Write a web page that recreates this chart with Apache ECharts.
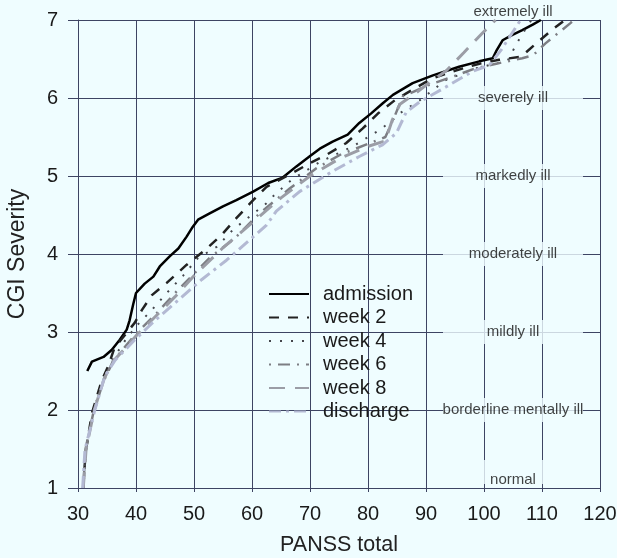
<!DOCTYPE html>
<html>
<head>
<meta charset="utf-8">
<script src="https://cdn.jsdelivr.net/npm/echarts@6/dist/echarts.min.js"></script>
<style>
  html, body { margin: 0; padding: 0; background: #effdff; }
  #main { width: 617px; height: 558px; }
</style>
</head>
<body>
<div id="main"></div>
<script>
// values: [PANSS total, CGI severity]
var seriesNames = ['admission', 'week 2', 'week 4', 'week 6', 'week 8', 'discharge'];

var admission = [[31.6,2.50],[32.4,2.62],[34.4,2.68],[35.8,2.77],[37.2,2.90],[38.4,3.03],[38.9,3.15],[39.5,3.35],[40.0,3.50],[41.5,3.62],[43.0,3.71],[44.1,3.84],[45.8,3.97],[47.3,4.07],[48.7,4.22],[49.8,4.35],[50.7,4.44],[52.7,4.52],[55.0,4.61],[57.3,4.69],[60.2,4.80],[62.8,4.91],[65.3,4.98],[67.6,5.12],[69.9,5.25],[71.7,5.35],[73.9,5.44],[76.5,5.53],[78.5,5.68],[80.5,5.80],[82.5,5.93],[84.3,6.04],[87.7,6.19],[91.2,6.29],[95.7,6.40],[99.2,6.47],[101.5,6.51],[102.1,6.60],[103.2,6.74],[104.9,6.81],[106.6,6.87],[108.4,6.94],[109.8,7.0]];

var week2 = [[30.9,1.0],[31.3,1.45],[32.4,1.96],[34.1,2.38],[35.2,2.56],[36.3,2.80],[38.5,3.00],[39.8,3.12],[41.0,3.28],[42.7,3.47],[45.3,3.63],[48.7,3.86],[51.9,4.05],[54.7,4.24],[57.3,4.46],[60.2,4.69],[62.5,4.86],[66.0,5.00],[69.9,5.16],[72.8,5.27],[76.2,5.42],[79.1,5.61],[81.7,5.80],[84.6,5.97],[86.6,6.06],[91.0,6.25],[95.0,6.35],[99.2,6.44],[102.6,6.49],[106.4,6.53],[109.0,6.70],[112.0,6.89],[114.0,7.0]];

var week4 = [[30.9,1.0],[31.4,1.5],[32.5,1.95],[34.2,2.35],[36.0,2.65],[38.2,2.90],[40.1,3.08],[42.7,3.28],[45.3,3.50],[48.1,3.72],[50.7,3.95],[53.9,4.09],[56.7,4.31],[59.6,4.48],[62.5,4.65],[63.9,4.76],[66.8,4.95],[71.7,5.18],[77.4,5.38],[82.0,5.59],[84.3,5.72],[85.4,5.80],[88.9,5.97],[93.4,6.23],[98.6,6.38],[102.0,6.44],[104.1,6.48],[105.8,6.72],[107.8,6.96],[108.2,7.0]];

var week6 = [[30.9,1.0],[31.3,1.5],[32.6,1.95],[34.3,2.35],[36.0,2.62],[38.0,2.80],[40.0,2.98],[43.3,3.22],[47.0,3.52],[52.7,3.95],[57.0,4.20],[61.3,4.52],[66.5,4.84],[71.1,5.10],[75.4,5.28],[80.3,5.42],[83.0,5.50],[84.5,5.75],[86.0,6.02],[90.6,6.17],[95.2,6.29],[98.5,6.38],[102.1,6.44],[106.6,6.51],[108.5,6.55],[110.6,6.70],[114.9,6.96],[115.5,7.0]];

var week8 = [[30.9,1.0],[31.4,1.5],[32.8,2.0],[34.5,2.4],[36.0,2.62],[38.0,2.78],[40.0,2.95],[42.7,3.15],[46.7,3.45],[50.0,3.72],[55.0,4.08],[60.0,4.40],[65.0,4.72],[70.0,5.00],[75.0,5.22],[80.0,5.38],[83.0,5.45],[84.2,5.72],[85.5,5.92],[88.0,6.05],[91.0,6.22],[93.5,6.35],[96.5,6.58],[99.7,6.83],[102.0,7.0]];

var discharge = [[30.8,1.0],[31.2,1.49],[32.9,2.0],[34.6,2.43],[36.4,2.64],[39.8,2.90],[43.3,3.15],[46.7,3.37],[51.3,3.67],[55.6,3.92],[60.2,4.22],[62.5,4.37],[64.2,4.55],[68.2,4.80],[73.9,5.06],[78.5,5.25],[82.5,5.40],[84.9,5.55],[86.6,5.82],[88.9,5.95],[93.4,6.14],[98.0,6.34],[100.9,6.42],[103.0,6.62],[105.0,6.85],[106.3,7.0]];

// severity bands written on the right
var levelNames = ['extremely ill', 'severely ill', 'markedly ill', 'moderately ill', 'mildly ill', 'borderline mentally ill', 'normal'];
var levelValues = [7, 6, 5, 4, 3, 2, 1];
var levelX = 105;

var bg = '#effdff';
var gridColor = '#3d4463';
var font = 'Liberation Sans';

var styles = [
    {color: '#000000', width: 2.5, type: 'solid'},
    {color: '#222222', width: 2.5, type: [10, 9]},
    {color: '#45464c', width: 2, type: [2, 9]},
    {color: '#7d7e84', width: 2.5, type: [2, 7, 12, 7]},
    {color: '#9b9da6', width: 3, type: [16, 10]},
    {color: '#b3b9d3', width: 3, type: [12, 5, 3, 5]}
];
var datasets = [admission, week2, week4, week6, week8, discharge];

var lineSeries = seriesNames.map(function (name, i) {
    return {
        name: name,
        type: 'line',
        data: datasets[i],
        symbol: 'none',
        z: 5,
        color: styles[i].color,
        lineStyle: styles[i]
    };
});

// blank boxes that cut the grid lines behind the band names
var boxData = levelNames.map(function (n, i) {
    var item = {value: [levelX, levelValues[i]], name: n};
    if (n === 'extremely ill') {
        item.label = {show: false};
    } else if (n === 'normal') {
        item.label = {offset: [0, -16]};
    }
    return item;
});
var textData = levelNames.map(function (n, i) {
    var item = {value: [levelX, levelValues[i]], name: n};
    if (n === 'extremely ill' || n === 'normal') {
        item.label = {offset: [0, -8]};
    }
    return item;
});

var option = {
    backgroundColor: bg,
    animation: false,
    grid: {left: 78, right: 17, top: 20, bottom: 70, outerBoundsMode: 'none'},
    legend: {
        data: seriesNames,
        orient: 'vertical',
        left: 268,
        top: 284,
        padding: 0,
        itemWidth: 40,
        itemHeight: 14,
        itemGap: 3.5,
        itemStyle: {opacity: 0},
        textStyle: {fontSize: 20, color: '#1a1a1a', fontFamily: font, lineHeight: 20, padding: [0, 0, 0, 9]}
    },
    xAxis: {
        type: 'value',
        min: 30, max: 120, interval: 10,
        name: 'PANSS total',
        nameLocation: 'middle',
        nameGap: 46,
        nameTextStyle: {fontSize: 21.5, color: '#222', fontFamily: font},
        axisLine: {show: true, lineStyle: {color: gridColor, width: 1}},
        axisTick: {show: true, length: 4, lineStyle: {color: gridColor}},
        axisLabel: {fontSize: 20, color: '#1a1a1a', margin: 16, fontFamily: font},
        splitLine: {show: true, lineStyle: {color: gridColor, width: 1}}
    },
    yAxis: {
        type: 'value',
        min: 1, max: 7, interval: 1,
        name: 'CGI Severity',
        nameLocation: 'middle',
        nameGap: 49,
        nameTextStyle: {fontSize: 23, color: '#222', fontFamily: font},
        axisLine: {show: true, lineStyle: {color: gridColor, width: 1}},
        axisTick: {show: true, length: 10, lineStyle: {color: gridColor}},
        axisLabel: {fontSize: 20, color: '#1a1a1a', margin: 20, fontFamily: font},
        splitLine: {show: true, lineStyle: {color: gridColor, width: 1}}
    },
    series: lineSeries.concat([{
        name: 'levelBoxes',
        type: 'scatter',
        z: 2,
        symbolSize: 0,
        silent: true,
        data: boxData,
        label: {
            show: true,
            position: 'inside',
            formatter: ' ',
            backgroundColor: bg,
            width: 140,
            height: 24,
            lineHeight: 24,
            align: 'center',
            verticalAlign: 'middle'
        }
    }, {
        name: 'levelNames',
        type: 'scatter',
        z: 3,
        symbolSize: 0,
        silent: true,
        data: textData,
        label: {
            show: true,
            position: 'inside',
            formatter: '{b}',
            fontSize: 15,
            color: '#111111',
            textBorderWidth: 0,
            fontFamily: font,
            align: 'center',
            verticalAlign: 'middle'
        }
    }])
};

var myChart = echarts.init(document.getElementById('main'));
myChart.setOption(option);
</script>
</body>
</html>
